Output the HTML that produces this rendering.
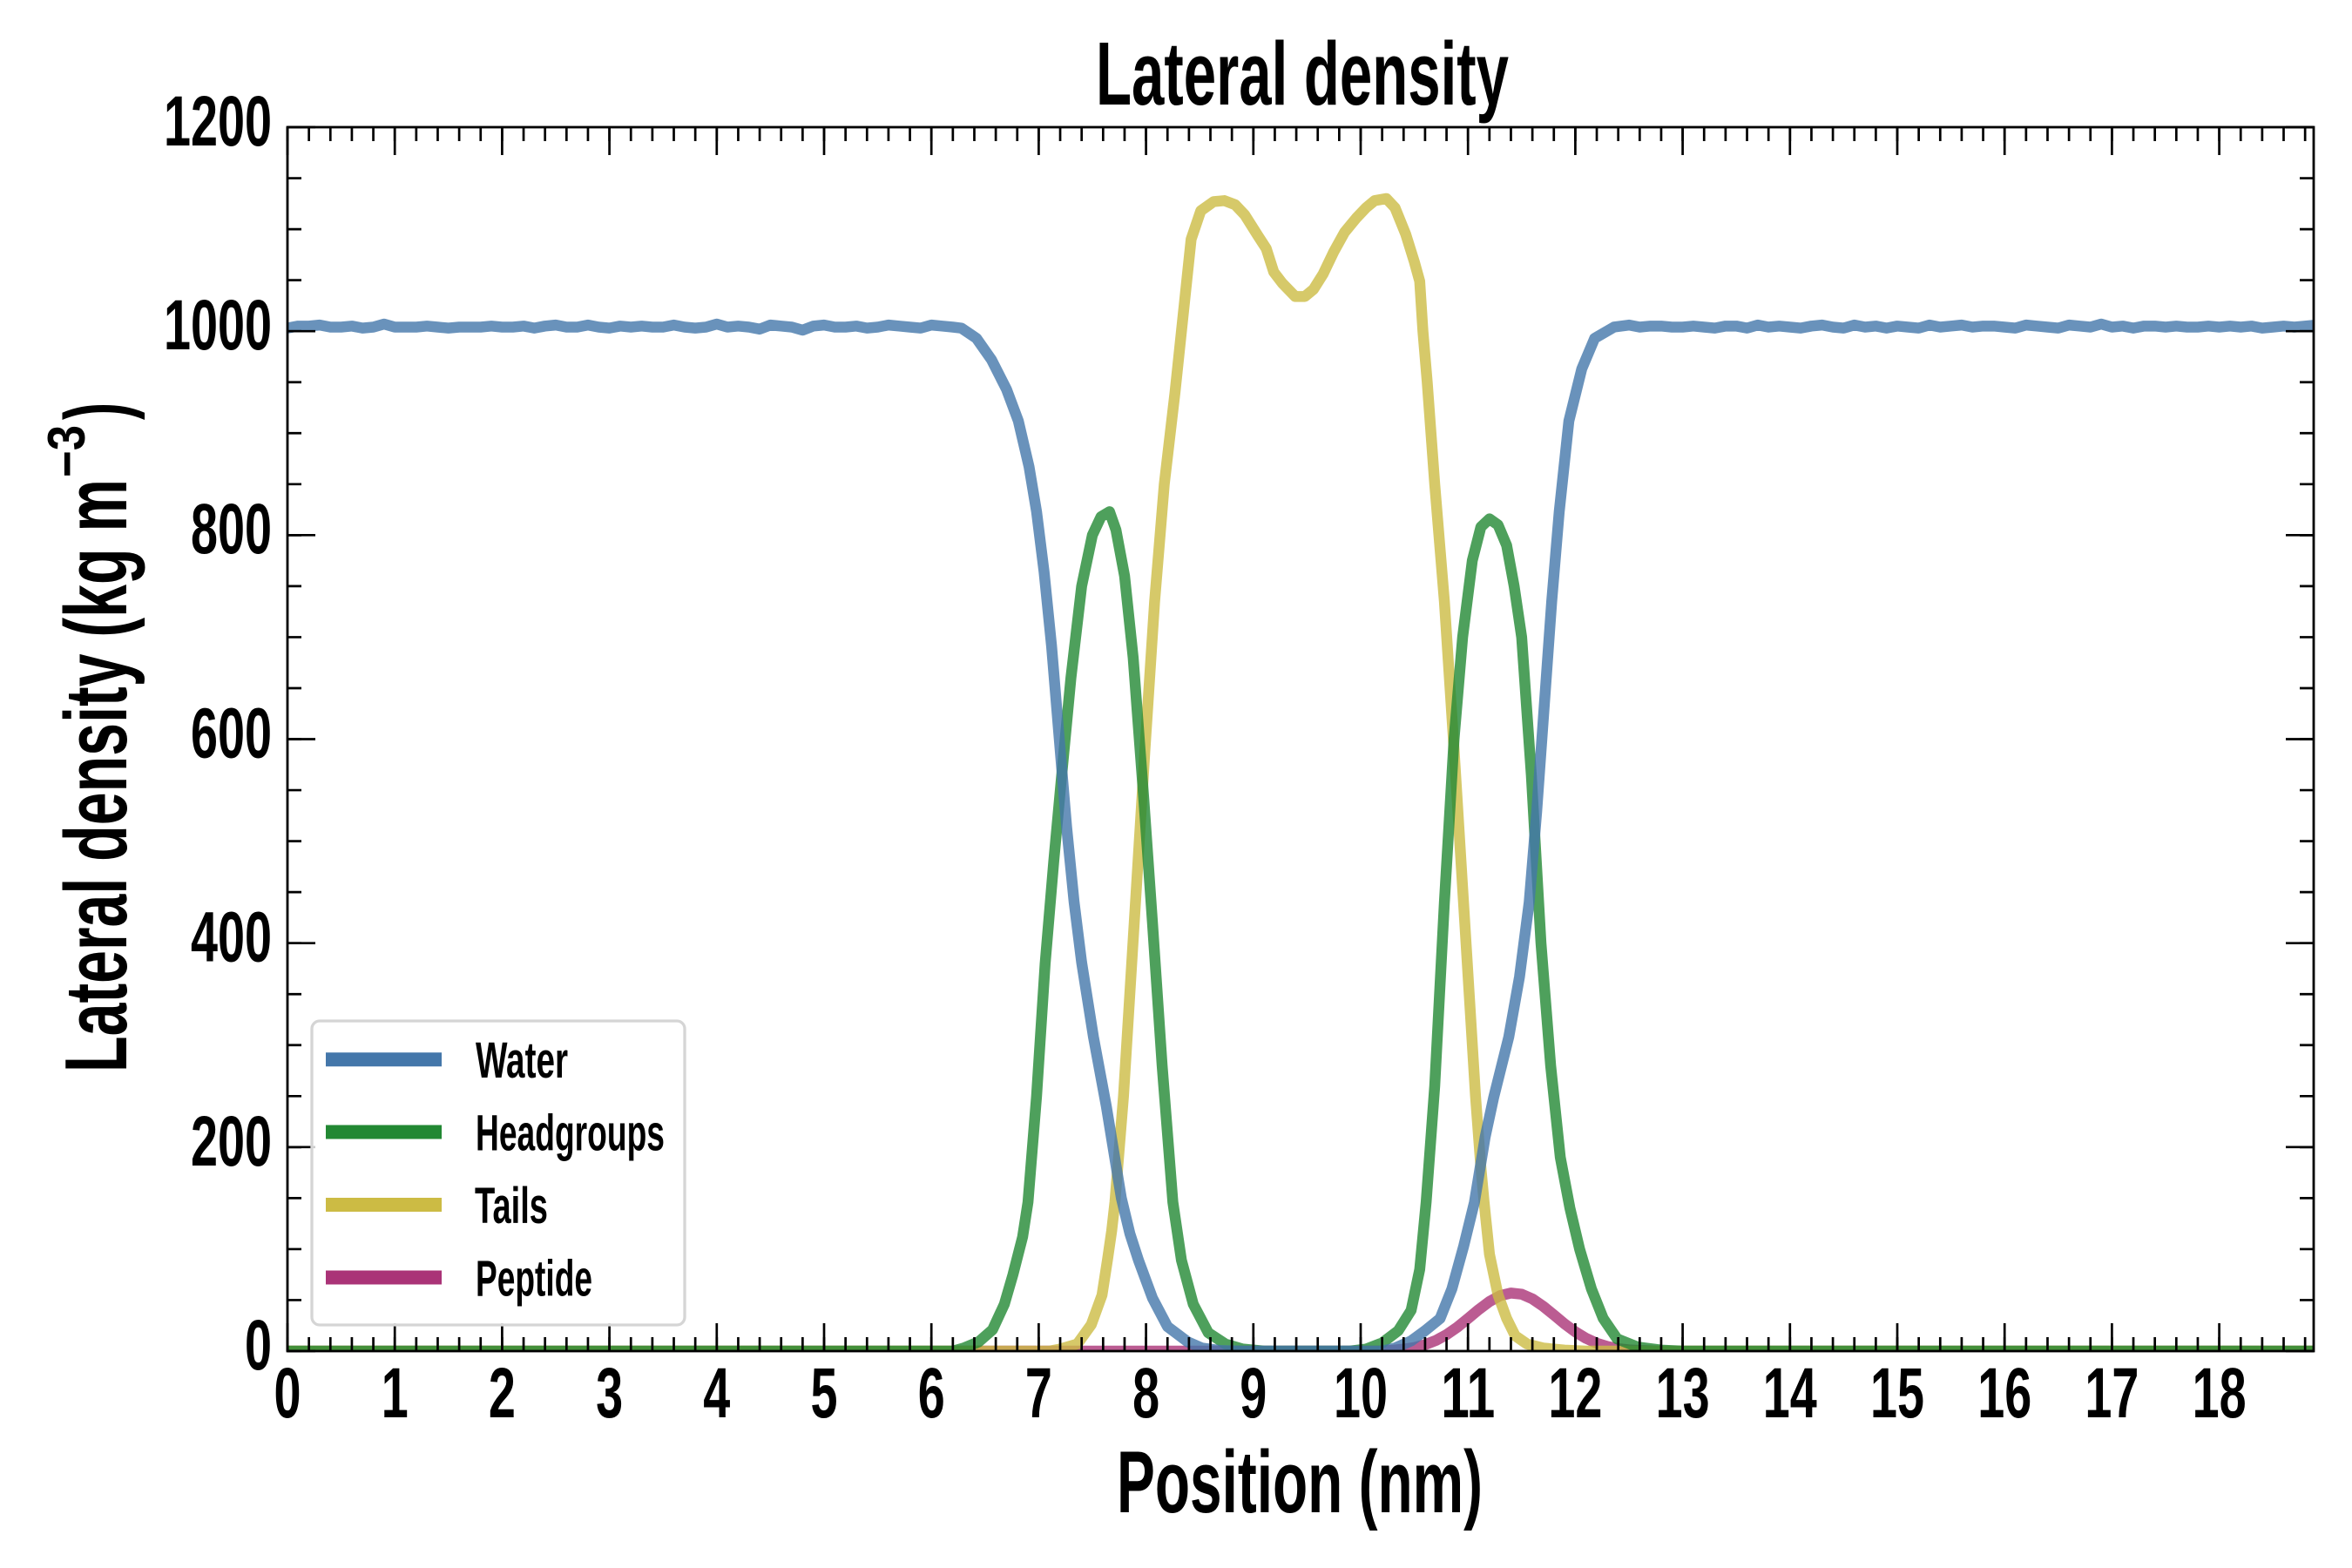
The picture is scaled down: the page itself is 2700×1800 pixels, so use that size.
<!DOCTYPE html>
<html><head><meta charset="utf-8"><style>html,body{margin:0;padding:0;background:#fff;}svg{display:block;}</style></head>
<body>
<svg width="2700" height="1800" viewBox="0 0 2700 1800" xmlns="http://www.w3.org/2000/svg" font-family="'Liberation Sans', Arial, sans-serif" font-weight="bold">
<rect width="2700" height="1800" fill="#fff"/>
<defs><clipPath id="ax"><rect x="330" y="146" width="2326" height="1405"/></clipPath></defs>

<g clip-path="url(#ax)">
<g transform="matrix(123.2,0,0,-1.170833,330,1551)" fill="none" stroke-width="12.5" stroke-linejoin="round" stroke-opacity="0.8">
<polyline vector-effect="non-scaling-stroke" stroke="#AA3377" points="-0.2,0 10.2,0 10.3,0.9 10.4,1.9 10.5,3.5 10.6,6.3 10.7,10.4 10.8,16.1 10.9,23.4 11.0,31.9 11.1,40.7 11.2,48.6 11.3,54.4 11.4,56.9 11.5,55.8 11.6,51.2 11.7,44.0 11.8,35.5 11.9,26.7 12.0,18.9 12.1,12.5 12.2,7.7 12.3,4.5 12.4,2.4 12.5,1.2 12.6,0.6 12.7,0.3 12.8,0 19.2,0"/>
<polyline vector-effect="non-scaling-stroke" stroke="#CCBB44" points="-0.2,0 7.1,0 7.2,2 7.36,7 7.49,26 7.59,55 7.64,89 7.68,118 7.71,146 7.79,250 7.89,420 7.99,590 8.08,735 8.17,850 8.27,940 8.36,1030 8.42,1090 8.51,1118 8.63,1127 8.73,1128 8.83,1124 8.92,1114 9.04,1094 9.12,1081 9.19,1058 9.27,1047 9.39,1034 9.48,1034 9.56,1041 9.65,1056 9.75,1078 9.85,1097 9.96,1111 10.05,1121 10.13,1128 10.24,1130 10.32,1121 10.42,1095 10.50,1068 10.55,1049 10.58,1000 10.62,950 10.69,850 10.78,735 10.87,590 10.97,420 11.07,250 11.12,180 11.15,146 11.2,95 11.28,55 11.36,32 11.44,15 11.55,7 11.7,3 11.9,1 12.1,0 19.2,0"/>
<polyline vector-effect="non-scaling-stroke" stroke="#228833" points="-0.2,0 6.2,0 6.3,3 6.44,9 6.57,21 6.68,46 6.76,75 6.85,112 6.90,146 6.98,250 7.06,380 7.14,480 7.21,560 7.30,660 7.40,750 7.50,800 7.58,818 7.66,823 7.72,805 7.80,760 7.88,680 7.98,540 8.06,420 8.15,280 8.25,146 8.33,89 8.44,46 8.58,18 8.74,7 8.9,2 9.1,0 9.9,0 10.05,2 10.2,8 10.35,20 10.47,40 10.55,80 10.61,146 10.69,260 10.78,440 10.87,600 10.95,700 11.04,775 11.12,808 11.20,816 11.28,810 11.36,790 11.43,750 11.50,700 11.59,565 11.68,400 11.77,280 11.86,190 11.95,140 12.04,100 12.15,61 12.26,32 12.39,12 12.58,4 12.8,1 13,0 19.2,0"/>
<polyline vector-effect="non-scaling-stroke" stroke="#4477AA" points="-0.2,1004 0,1003 0.1,1005 0.2,1005 0.3,1006 0.4,1004 0.5,1004 0.6,1005 0.7,1003 0.8,1004 0.9,1007 1.0,1004 1.1,1004 1.2,1004 1.3,1005 1.4,1004 1.5,1003 1.6,1004 1.7,1004 1.8,1004 1.9,1005 2.0,1004 2.1,1004 2.2,1005 2.3,1003 2.4,1005 2.5,1006 2.6,1004 2.7,1004 2.8,1006 2.9,1004 3.0,1003 3.1,1005 3.2,1004 3.3,1005 3.4,1004 3.5,1004 3.6,1006 3.7,1004 3.8,1003 3.9,1004 4.0,1007 4.1,1004 4.2,1005 4.3,1004 4.4,1002 4.5,1006 4.6,1005 4.7,1004 4.8,1001 4.9,1005 5.0,1006 5.1,1004 5.2,1004 5.3,1005 5.4,1003 5.5,1004 5.6,1006 5.7,1005 5.8,1004 5.9,1003 6.0,1006 6.1,1005 6.2,1004 6.28,1003 6.42,993 6.56,972 6.70,943 6.81,912 6.91,867 6.98,823 7.05,764 7.12,691 7.19,602 7.26,514 7.33,440 7.40,381 7.51,308 7.63,240 7.77,150 7.85,115 7.93,89 8.06,52 8.20,24 8.39,9 8.52,3 8.70,0.5 8.9,0 10.2,0 10.32,3 10.47,10 10.60,20 10.74,32 10.85,61 10.96,103 11.06,146 11.16,210 11.24,249 11.38,308 11.48,367 11.57,440 11.64,529 11.71,632 11.78,735 11.85,823 11.94,912 12.06,963 12.18,993 12.36,1004 12.5,1006 12.6,1004 12.7,1005 12.8,1005 12.9,1004 13.0,1004 13.1,1005 13.2,1004 13.3,1003 13.4,1005 13.5,1005 13.6,1003 13.7,1006 13.8,1004 13.9,1005 14.0,1004 14.1,1003 14.2,1005 14.3,1006 14.4,1004 14.5,1003 14.6,1006 14.7,1004 14.8,1005 14.9,1003 15.0,1005 15.1,1004 15.2,1003 15.3,1006 15.4,1004 15.5,1005 15.6,1006 15.7,1004 15.8,1005 15.9,1005 16.0,1004 16.1,1003 16.2,1006 16.3,1005 16.4,1004 16.5,1003 16.6,1006 16.7,1005 16.8,1004 16.9,1007 17.0,1004 17.1,1005 17.2,1003 17.3,1005 17.4,1005 17.5,1004 17.6,1005 17.7,1004 17.8,1004 17.9,1005 18.0,1004 18.1,1005 18.2,1004 18.3,1005 18.4,1003 18.5,1004 18.6,1005 18.7,1004 18.8,1005 18.9,1006 19.2,1005"/>
</g>
</g>

<!-- ticks -->
<g stroke="#000" fill="none">
<line x1="328.65" y1="1543" x2="2657" y2="1543" stroke-width="16" stroke-dasharray="2.7 21.94"/>
<line x1="328.65" y1="1535" x2="2657" y2="1535" stroke-width="32" stroke-dasharray="2.7 120.5"/>
<line x1="328.65" y1="154" x2="2657" y2="154" stroke-width="16" stroke-dasharray="2.7 21.94"/>
<line x1="328.65" y1="162" x2="2657" y2="162" stroke-width="32" stroke-dasharray="2.7 120.5"/>
<line x1="338" y1="1552.35" x2="338" y2="144" stroke-width="16" stroke-dasharray="2.7 55.84"/>
<line x1="346" y1="1552.35" x2="346" y2="144" stroke-width="32" stroke-dasharray="2.7 231.467"/>
<line x1="2648" y1="1552.35" x2="2648" y2="144" stroke-width="16" stroke-dasharray="2.7 55.84"/>
<line x1="2640" y1="1552.35" x2="2640" y2="144" stroke-width="32" stroke-dasharray="2.7 231.467"/>
<rect x="330" y="146" width="2326" height="1405" stroke-width="2.8"/>
</g>

<!-- title & labels -->
<text x="1258" y="120" font-size="103" textLength="474" lengthAdjust="spacingAndGlyphs">Lateral density</text>
<text x="1282" y="1736" font-size="101" textLength="420" lengthAdjust="spacingAndGlyphs">Position (nm)</text>
<g transform="translate(145,0) rotate(-90)">
<text x="-1231" y="0" font-size="101" textLength="681" lengthAdjust="spacingAndGlyphs">Lateral density (kg m</text>
<text x="-548" y="-48" font-size="60" textLength="60" lengthAdjust="spacingAndGlyphs">−3</text>
<text x="-482" y="0" font-size="101" textLength="20" lengthAdjust="spacingAndGlyphs">)</text>
</g>

<!-- x tick labels -->
<g font-size="82">
<text x="314.5" y="1627" textLength="31" lengthAdjust="spacingAndGlyphs">0</text>
<text x="437.7" y="1627" textLength="31" lengthAdjust="spacingAndGlyphs">1</text>
<text x="560.9" y="1627" textLength="31" lengthAdjust="spacingAndGlyphs">2</text>
<text x="684.1" y="1627" textLength="31" lengthAdjust="spacingAndGlyphs">3</text>
<text x="807.3" y="1627" textLength="31" lengthAdjust="spacingAndGlyphs">4</text>
<text x="930.5" y="1627" textLength="31" lengthAdjust="spacingAndGlyphs">5</text>
<text x="1053.7" y="1627" textLength="31" lengthAdjust="spacingAndGlyphs">6</text>
<text x="1176.9" y="1627" textLength="31" lengthAdjust="spacingAndGlyphs">7</text>
<text x="1300.1" y="1627" textLength="31" lengthAdjust="spacingAndGlyphs">8</text>
<text x="1423.3" y="1627" textLength="31" lengthAdjust="spacingAndGlyphs">9</text>
<text x="1531" y="1627" textLength="62" lengthAdjust="spacingAndGlyphs">10</text>
<text x="1654.2" y="1627" textLength="62" lengthAdjust="spacingAndGlyphs">11</text>
<text x="1777.4" y="1627" textLength="62" lengthAdjust="spacingAndGlyphs">12</text>
<text x="1900.6" y="1627" textLength="62" lengthAdjust="spacingAndGlyphs">13</text>
<text x="2023.8" y="1627" textLength="62" lengthAdjust="spacingAndGlyphs">14</text>
<text x="2147" y="1627" textLength="62" lengthAdjust="spacingAndGlyphs">15</text>
<text x="2270.2" y="1627" textLength="62" lengthAdjust="spacingAndGlyphs">16</text>
<text x="2393.4" y="1627" textLength="62" lengthAdjust="spacingAndGlyphs">17</text>
<text x="2516.6" y="1627" textLength="62" lengthAdjust="spacingAndGlyphs">18</text>
<!-- y tick labels -->
<text x="188" y="167" textLength="124" lengthAdjust="spacingAndGlyphs">1200</text>
<text x="188" y="401" textLength="124" lengthAdjust="spacingAndGlyphs">1000</text>
<text x="219" y="635" textLength="93" lengthAdjust="spacingAndGlyphs">800</text>
<text x="219" y="869.5" textLength="93" lengthAdjust="spacingAndGlyphs">600</text>
<text x="219" y="1103.7" textLength="93" lengthAdjust="spacingAndGlyphs">400</text>
<text x="219" y="1337.8" textLength="93" lengthAdjust="spacingAndGlyphs">200</text>
<text x="281" y="1572" textLength="31" lengthAdjust="spacingAndGlyphs">0</text>
</g>

<!-- legend -->
<rect x="358" y="1172" width="428" height="349" rx="9" ry="9" fill="#fff" fill-opacity="0.8" stroke="#d5d5d5" stroke-width="3.3"/>
<g stroke-width="16">
<line x1="374" y1="1216.3" x2="507" y2="1216.3" stroke="#4477AA"/>
<line x1="374" y1="1299.5" x2="507" y2="1299.5" stroke="#228833"/>
<line x1="374" y1="1383" x2="507" y2="1383" stroke="#CCBB44"/>
<line x1="374" y1="1466.5" x2="507" y2="1466.5" stroke="#AA3377"/>
</g>
<g font-size="58">
<text x="546" y="1237" textLength="106" lengthAdjust="spacingAndGlyphs">Water</text>
<text x="546" y="1320.5" textLength="217" lengthAdjust="spacingAndGlyphs">Headgroups</text>
<text x="545" y="1404" textLength="84" lengthAdjust="spacingAndGlyphs">Tails</text>
<text x="546" y="1487.5" textLength="134" lengthAdjust="spacingAndGlyphs">Peptide</text>
</g>
</svg>
</body></html>
